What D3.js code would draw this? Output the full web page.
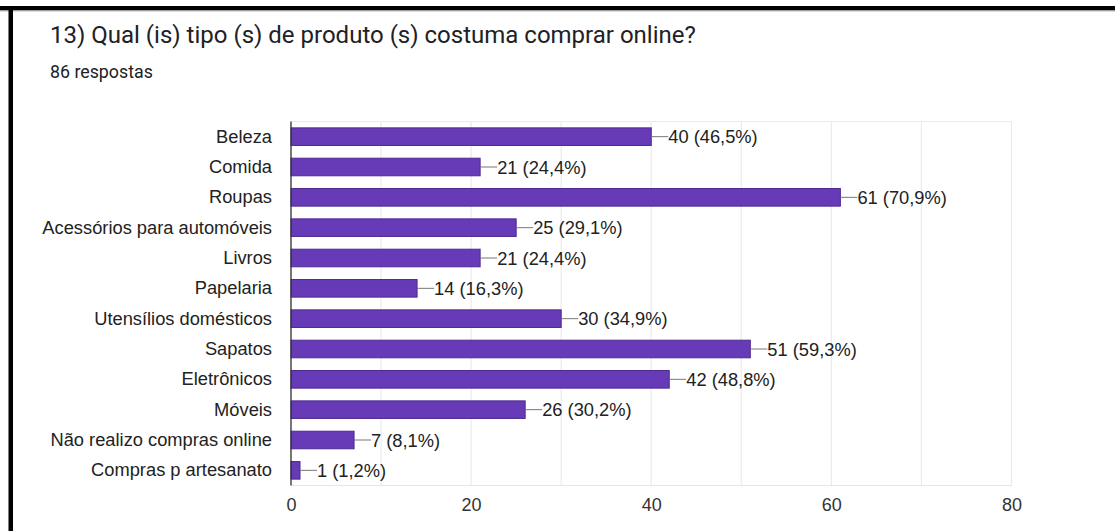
<!DOCTYPE html>
<html>
<head>
<meta charset="utf-8">
<script src="https://cdn.jsdelivr.net/npm/d3@7"></script>
<style>
  html, body { margin: 0; padding: 0; background: #fff; }
  svg { display: block; }
</style>
</head>
<body>
<svg id="chart" width="1115" height="531"></svg>
<script>
const title = "13) Qual (is) tipo (s) de produto (s) costuma comprar online?";
const subtitle = "86 respostas";
const categories = ["Beleza","Comida","Roupas","Acessórios para automóveis","Livros","Papelaria","Utensílios domésticos","Sapatos","Eletrônicos","Móveis","Não realizo compras online","Compras p artesanato"];
const counts = [40,21,61,25,21,14,30,51,42,26,7,1];
const percents = ["46,5%","24,4%","70,9%","29,1%","24,4%","16,3%","34,9%","59,3%","48,8%","30,2%","8,1%","1,2%"];
const tickValues = [0,20,40,60,80];
const gridValues = [0,10,20,30,40,50,60,70,80];

const svg = d3.select("#chart");
const W = 1115, H = 531;
const plot = {left: 291, right: 1011.5, top: 121.5, bottom: 485.5};

// frame borders
svg.append("rect").attr("x", 0).attr("y", 6).attr("width", W).attr("height", 4.5).attr("fill", "#000");
svg.append("rect").attr("x", 0).attr("y", 10.5).attr("width", W).attr("height", 1).attr("fill", "#bbb");
svg.append("rect").attr("x", 8.5).attr("y", 6).attr("width", 4.5).attr("height", H - 6).attr("fill", "#000");

svg.append("text").attr("x", 50).attr("y", 43).text(title)
  .attr("font-family", "Roboto").attr("font-size", 24).attr("fill", "#202124");
svg.append("text").attr("x", 50).attr("y", 78).text(subtitle)
  .attr("font-family", "Roboto").attr("font-size", 17.8).attr("fill", "#202124");

const x = d3.scaleLinear().domain([0, 80]).range([plot.left, plot.right]);
const y = d3.scaleBand().domain(categories).range([plot.top, plot.bottom]).paddingInner(0.42).paddingOuter(0.21);

// grid
svg.append("g").selectAll("line").data(gridValues).join("line")
  .attr("x1", d => x(d)).attr("x2", d => x(d))
  .attr("y1", plot.top).attr("y2", plot.bottom)
  .attr("stroke", "#ebebeb").attr("stroke-width", 1.2);
svg.append("line").attr("x1", plot.left).attr("x2", plot.right)
  .attr("y1", plot.top).attr("y2", plot.top).attr("stroke", "#ebebeb").attr("stroke-width", 1.2);
svg.append("line").attr("x1", plot.left).attr("x2", plot.right)
  .attr("y1", plot.bottom).attr("y2", plot.bottom).attr("stroke", "#e6e6e6").attr("stroke-width", 1.2);

// bars
const rows = categories.map((c, i) => ({c, v: counts[i], p: percents[i]}));
svg.append("g").selectAll("rect").data(rows).join("rect")
  .attr("x", x(0)).attr("y", d => y(d.c))
  .attr("width", d => x(d.v) - x(0)).attr("height", y.bandwidth())
  .attr("fill", "#673ab7").attr("stroke", "#4e2a91").attr("stroke-width", 1);

// leader lines + value labels
const lab = svg.append("g");
lab.selectAll("line").data(rows).join("line")
  .attr("x1", d => x(d.v)).attr("x2", d => x(d.v) + 17)
  .attr("y1", d => y(d.c) + y.bandwidth() / 2).attr("y2", d => y(d.c) + y.bandwidth() / 2)
  .attr("stroke", "#777").attr("stroke-width", 1);
lab.selectAll("text").data(rows).join("text")
  .attr("x", d => x(d.v) + 17).attr("y", d => y(d.c) + y.bandwidth() / 2)
  .attr("dy", "0.36em")
  .attr("font-family", "Liberation Sans, Arial").attr("font-size", 18.3).attr("fill", "#222")
  .text(d => `${d.v} (${d.p})`);

// y axis
const yAxis = svg.append("g").attr("transform", `translate(${plot.left},0)`)
  .call(d3.axisLeft(y).tickSize(0).tickPadding(19));
yAxis.select(".domain").remove();
yAxis.selectAll("text").attr("font-family", "Liberation Sans, Arial").attr("font-size", 18.3).attr("fill", "#222");
svg.append("line").attr("x1", plot.left).attr("x2", plot.left)
  .attr("y1", plot.top).attr("y2", plot.bottom).attr("stroke", "#333").attr("stroke-width", 1.3);

// x axis
const xAxis = svg.append("g").attr("transform", `translate(0,${plot.bottom})`)
  .call(d3.axisBottom(x).tickValues(tickValues).tickSize(0).tickPadding(13));
xAxis.select(".domain").remove();
xAxis.selectAll("text").attr("font-family", "Liberation Sans, Arial").attr("font-size", 18).attr("fill", "#333");
</script>
</body>
</html>
